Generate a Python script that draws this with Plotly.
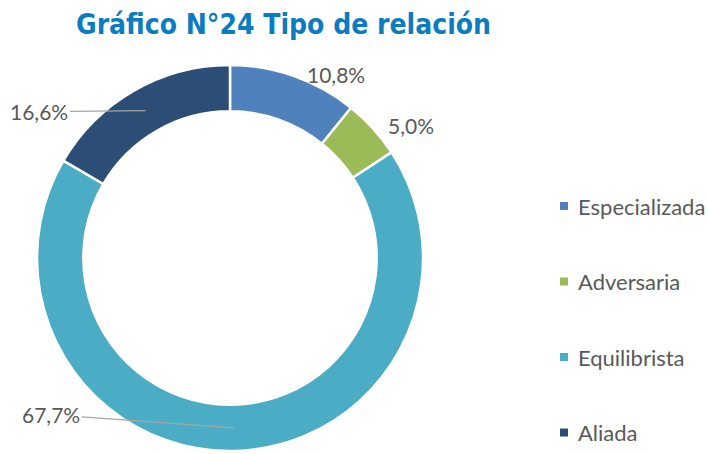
import math
import plotly.graph_objects as go

# ---- data ----
categories = ["Especializada", "Adversaria", "Equilibrista", "Aliada"]
values = [10.8, 5.0, 67.7, 16.6]
colors = ["#4F81BD", "#9BBB59", "#4BACC6", "#2C4D75"]
title_text = "Gráfico N°24 Tipo de relación"

# ---- layout constants (pixels) ----
W, H = 708, 454
px_left, px_right, px_top, px_bottom = 37, 423, 65, 451
hole = 0.76
font_family = "Lato, 'Open Sans', sans-serif"
text_color = "#595959"
label_size = 21
legend_size = 22

def px_to_paper(x, y):
    return x / W, (H - y) / H

x0, y1 = px_to_paper(px_left, px_top)
x1, y0 = px_to_paper(px_right, px_bottom)

fig = go.Figure(go.Pie(
    labels=categories,
    values=values,
    marker=dict(colors=colors, line=dict(color="white", width=2.5)),
    hole=hole,
    sort=False,
    direction="clockwise",
    rotation=0,
    textinfo="none",
    hoverinfo="label+percent",
    showlegend=False,
    domain=dict(x=[x0, x1], y=[y0, y1]),
))

cx = (px_left + px_right) / 2
cy = (px_top + px_bottom) / 2
R = (px_right - px_left) / 2

# label styles: (use_leader, ax, ay, xshift, yshift)
label_styles = [
    (False, 0, 0, 11, 1),
    (False, 0, 0, 13, 3),
    (True, -183, -13, 0, 0),
    (True, -106, 1, 0, 0),
]

total = sum(values)
cum = 0.0
annotations = []
for v, st in zip(values, label_styles):
    mid = (cum + v / 2) / total * 2 * math.pi
    cum += v
    txt = f"{v:.1f}".replace(".", ",") + "%"
    use_leader, ax, ay, xs, ys = st
    if use_leader:
        r = R * (1 + hole) / 2
        px = cx + r * math.sin(mid)
        py = cy - r * math.cos(mid)
        xp, yp = px_to_paper(px, py)
        annotations.append(dict(
            x=xp, y=yp, xref="paper", yref="paper", text=txt,
            showarrow=True, arrowhead=0, arrowwidth=1.2, arrowcolor="#A6A6A6",
            ax=ax, ay=ay, standoff=0,
            font=dict(family=font_family, size=label_size, color=text_color),
        ))
    else:
        px = cx + R * math.sin(mid)
        py = cy - R * math.cos(mid)
        xp, yp = px_to_paper(px, py)
        annotations.append(dict(
            x=xp, y=yp, xref="paper", yref="paper", text=txt,
            showarrow=False, xanchor="left", yanchor="middle",
            xshift=xs, yshift=ys,
            font=dict(family=font_family, size=label_size, color=text_color),
        ))

# ---- custom legend ----
legend_x = 560
legend_y0 = 206
legend_step = 75.5
sq = 8
shapes = []
for i, (cat, col) in enumerate(zip(categories, colors)):
    yc = legend_y0 + i * legend_step
    ax0, ay0 = px_to_paper(legend_x, yc - sq / 2)
    ax1, ay1 = px_to_paper(legend_x + sq, yc + sq / 2)
    shapes.append(dict(type="rect", xref="paper", yref="paper",
                       x0=ax0, x1=ax1, y0=ay1, y1=ay0,
                       fillcolor=col, line=dict(width=0)))
    tx, ty = px_to_paper(legend_x + sq + 8, yc)
    annotations.append(dict(
        x=tx, y=ty, xref="paper", yref="paper", text=cat,
        showarrow=False, xanchor="left", yanchor="middle",
        font=dict(family=font_family, size=legend_size, color=text_color),
    ))

# ---- title ----
tx, ty = px_to_paper(283.5, 25)
annotations.append(dict(
    x=tx, y=ty, xref="paper", yref="paper", text=f"<b>{title_text}</b>",
    showarrow=False, xanchor="center", yanchor="middle",
    font=dict(family="'DejaVu Sans Condensed', 'DejaVu Sans', sans-serif", size=28, color="#0B7CC1"),
))

fig.update_layout(
    width=W, height=H,
    margin=dict(l=0, r=0, t=0, b=0),
    paper_bgcolor="white", plot_bgcolor="white",
    annotations=annotations,
    shapes=shapes,
    showlegend=False,
)

fig.write_html(
    "out.html",
    config={"displayModeBar": False},
    post_script="document.body.style.margin='0';document.body.style.padding='0';",
)
